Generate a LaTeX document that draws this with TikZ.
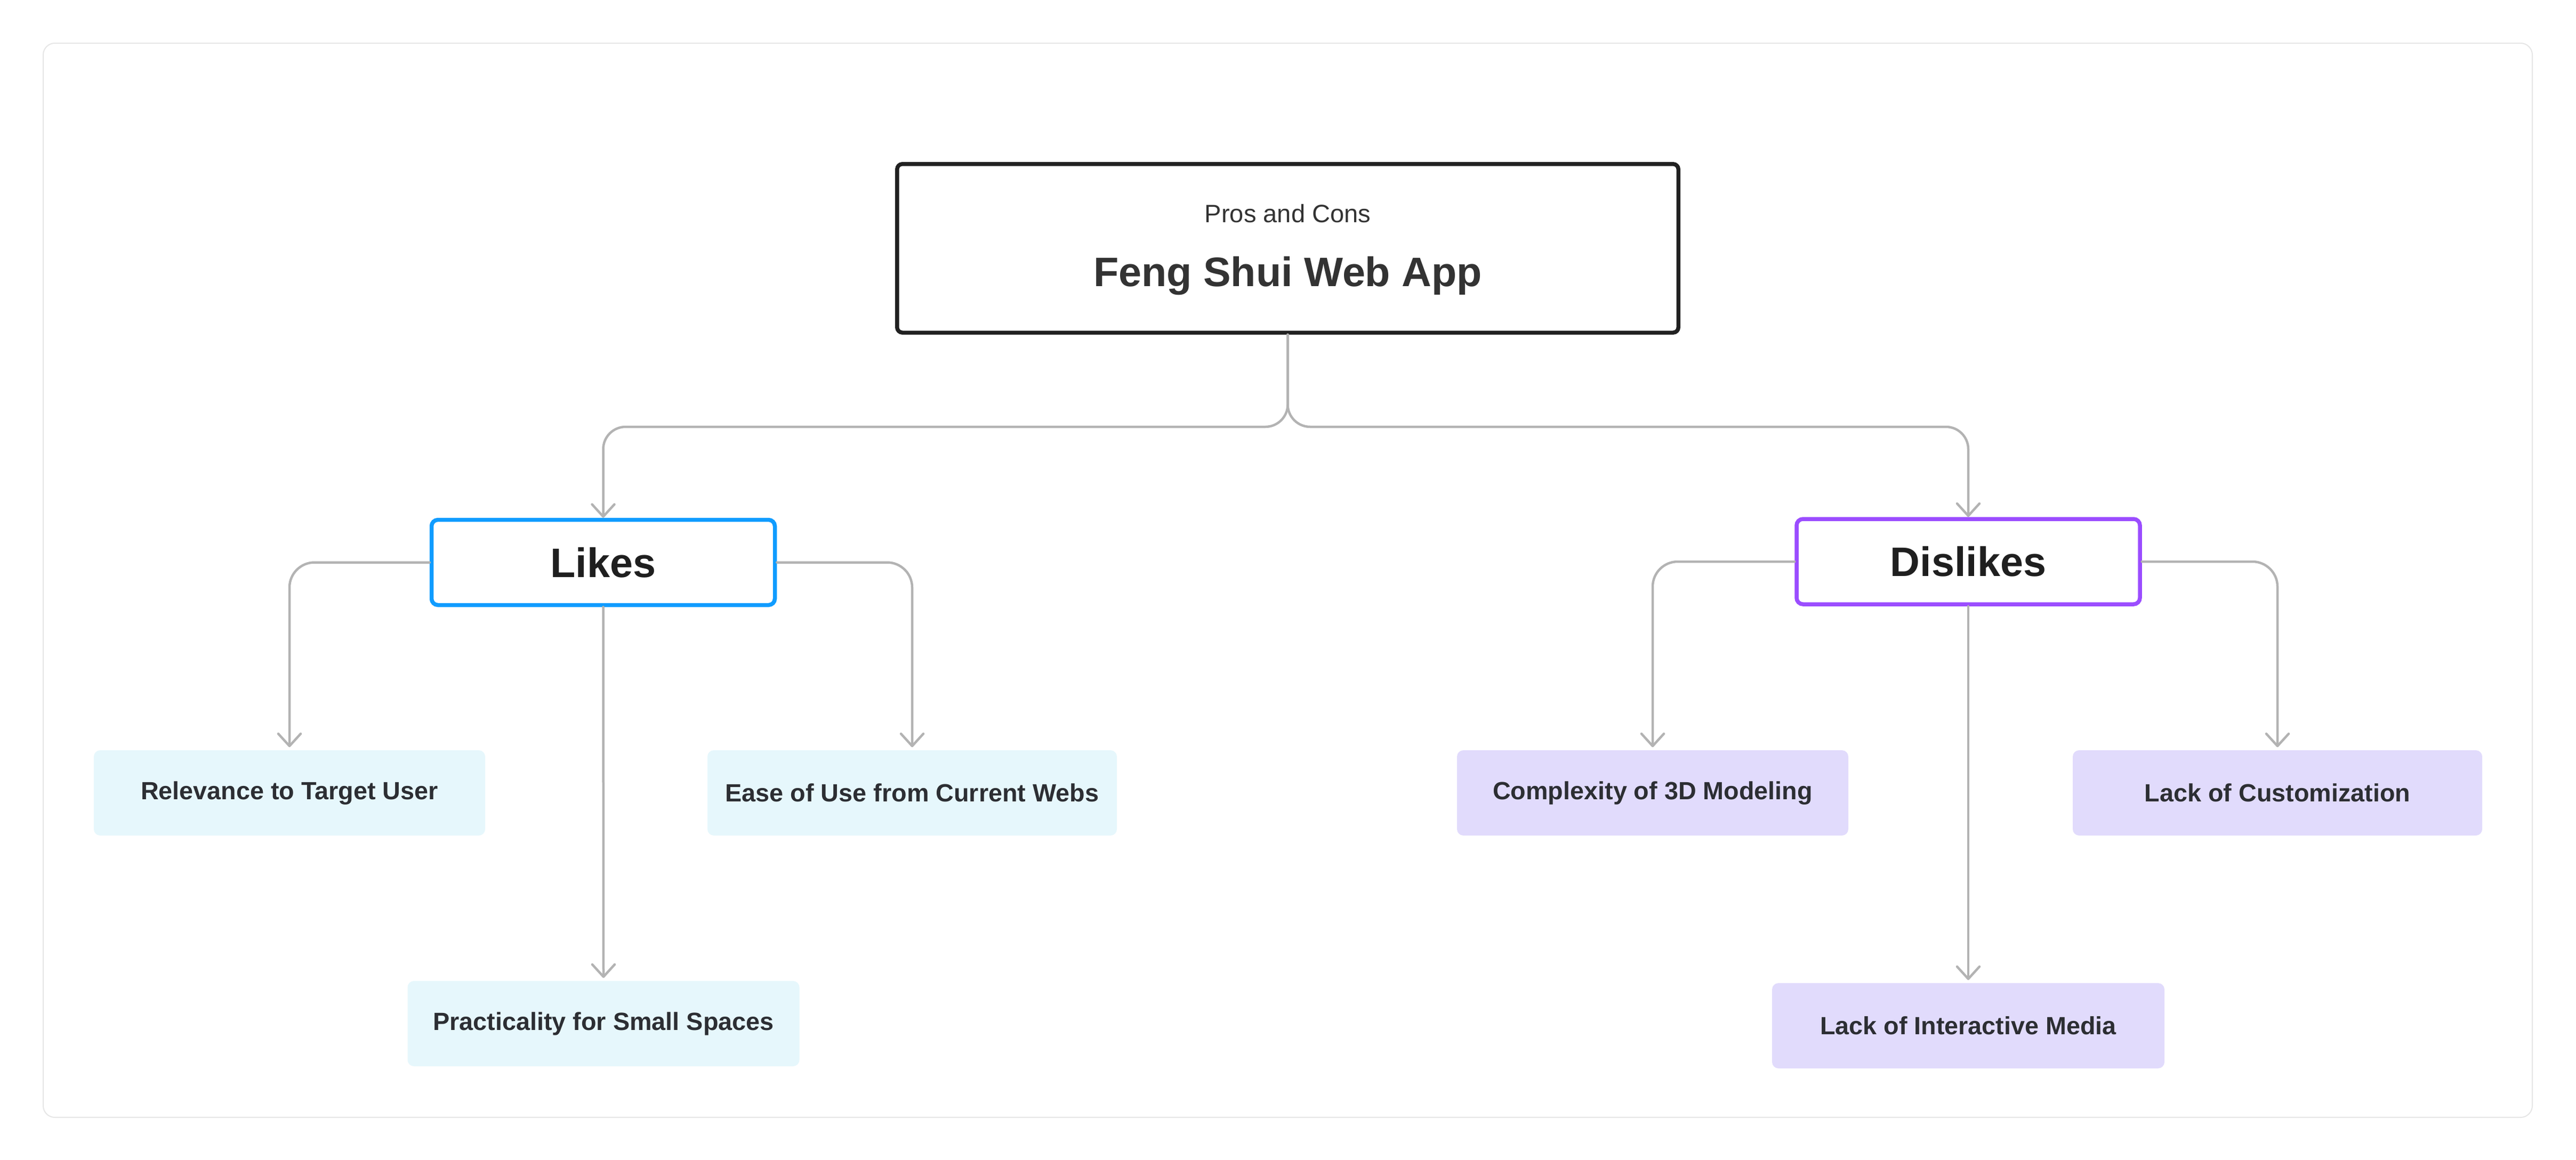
\documentclass[tikz,border=0pt]{standalone}
\usepackage{fontspec}
\setmainfont{Liberation Sans}
\usepackage{xcolor}
\usetikzlibrary{arrows.meta}
\definecolor{linegray}{HTML}{B3B3B3}
\definecolor{framegray}{HTML}{E6E6E6}
\definecolor{likeblue}{HTML}{109CFF}
\definecolor{dislikepurple}{HTML}{9B4DFF}
\definecolor{likefill}{HTML}{E6F7FC}
\definecolor{dislikefill}{HTML}{E1DBFC}
\definecolor{darktext}{HTML}{333333}
\definecolor{leaftext}{HTML}{2C2E33}

\begin{document}
\begin{tikzpicture}[
    conn/.style={draw=linegray, line width=0.045cm, line cap=round,
        -{Straight Barb[length=2.3mm, width=4.2mm, round]}},
    cat/.style={draw, fill=white, line width=0.075cm, rounded corners=0.12cm,
        minimum width=6.44cm, minimum height=1.6cm, text=black!88,
        font=\fontsize{22}{26}\selectfont\bfseries},
    leaf/.style={rounded corners=0.12cm, minimum height=1.6cm, text=leaftext,
        font=\fontsize{13.3}{16}\selectfont\bfseries},
]
            \fill[white] (0,0) rectangle (48.32,-21.76);
            \useasboundingbox (0,0) rectangle (48.32,-21.76);
            \draw[framegray, line width=0.02cm, rounded corners=0.22cm] (0.81,-0.81) rectangle (47.50,-20.97);

            \node[draw=black!87, line width=0.075cm, rounded corners=0.1cm, minimum width=14.655cm, minimum height=3.165cm] (root) at (24.155,-4.66) {};
            \node[anchor=base, text=darktext, font=\fontsize{13.4}{16}\selectfont] (sub) at (24.155,-4.17) {Pros and Cons};
            \node[anchor=base, text=darktext, font=\fontsize{22}{26}\selectfont\bfseries] (title) at (24.155,-5.37) {Feng Shui Web App};
            \coordinate (fork) at (24.155,-8.01);

            \node[cat, draw=likeblue] (likes) at (11.315,-10.555) {Likes};
            \node[cat, draw=dislikepurple] (dislikes) at (36.92,-10.54) {Dislikes};

            \node[leaf, fill=likefill, minimum width=7.34cm] (rel) at (5.43,-14.88) {Relevance to Target User};
            \node[leaf, fill=likefill, minimum width=7.68cm] (ease) at (17.11,-14.88) {Ease of Use from Current Webs};
            \node[leaf, fill=likefill, minimum width=7.35cm] (prac) at (11.32,-19.21) {Practicality for Small Spaces};
            \node[leaf, fill=dislikefill, minimum width=7.34cm] (comp) at (31.00,-14.88) {Complexity of 3D Modeling};
            \node[leaf, fill=dislikefill, minimum width=7.68cm] (cust) at (42.72,-14.88) {Lack of Customization};
            \node[leaf, fill=dislikefill, minimum width=7.36cm] (media) at (36.92,-19.25) {Lack of Interactive Media};

            \draw[conn, rounded corners=0.42cm] (root.south) -- (fork) -| (likes.north);
            \draw[conn, rounded corners=0.42cm] (root.south) -- (fork) -| (dislikes.north);
            \draw[conn, rounded corners=0.47cm, shorten >=0.05cm] (likes.west) -| (rel.north);
            \draw[conn, rounded corners=0.47cm, shorten >=0.05cm] (likes.east) -| (ease.north);
            \draw[conn, shorten >=0.05cm] (likes.south) -- (prac.north);
            \draw[conn, rounded corners=0.47cm, shorten >=0.05cm] (dislikes.west) -| (comp.north);
            \draw[conn, rounded corners=0.47cm, shorten >=0.05cm] (dislikes.east) -| (cust.north);
            \draw[conn, shorten >=0.05cm] (dislikes.south) -- (media.north);
        \end{tikzpicture}
\end{document}
